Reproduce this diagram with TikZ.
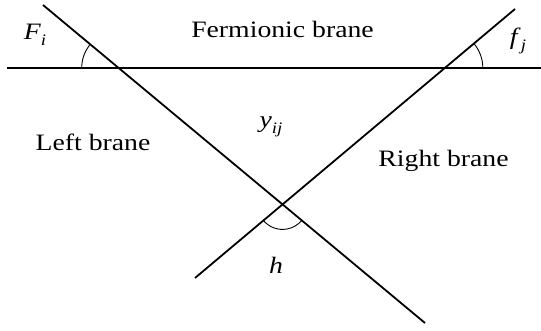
\documentclass[tikz,border=0pt]{standalone}
\usepackage{fontspec}
\setmainfont{Liberation Serif}[FakeStretch=1.18]
\usetikzlibrary{intersections}
\begin{document}
\begin{tikzpicture}[x=1pt,y=-1pt,
  lbl/.style={font=\fontsize{23.5}{28}\selectfont, inner sep=0pt, anchor=base},
  brane/.style={line width=1.8pt},
  fbrane/.style={line width=2.6pt},
  anglearc/.style={line width=0.9pt}]
\useasboundingbox (0,0) rectangle (541,331);
\coordinate (Hs) at (7,68);
\coordinate (He) at (541,68);
\coordinate (Ls) at (43,5);
\coordinate (Le) at (425,323);
\coordinate (Rs) at (515,9);
\coordinate (Re) at (195,278);
\draw[fbrane, name path=H] (Hs) -- (He);
\draw[brane, name path=L] (Ls) -- (Le);
\draw[brane, name path=R] (Rs) -- (Re);
\path[name intersections={of=H and L, by=XL}];
\path[name intersections={of=H and R, by=XR}];
\path[name intersections={of=L and R, by=XB}];
\draw[anglearc] ([shift={(180:37)}]XL) arc[start angle=180, end angle=220, radius=37];
\draw[anglearc] ([shift={(0:38)}]XR) arc[start angle=0, end angle=-40, radius=38];
\draw[anglearc] ([shift={(140:25)}]XB) arc[start angle=140, end angle=40, radius=25];
\node[lbl] (fb) at (282.5,38) {Fermionic brane};
\node[lbl] (lb) at (93,151) {Left brane};
\node[lbl] (rb) at (443.5,167) {Right brane};
\node[lbl] (Fi) at (35,40) {\textit{F}\raisebox{-0.22em}{\fontsize{16}{18}\selectfont\textit{i}}};
\node[lbl] (fj) at (518,45) {\textit{f}\raisebox{-0.22em}{\fontsize{16}{18}\selectfont\textit{j}}};
\node[lbl] (yij) at (271,128) {\textit{y}\raisebox{-0.22em}{\fontsize{16}{18}\selectfont\textit{ij}}};
\node[lbl] (h) at (276,273) {\textit{h}};
\end{tikzpicture}
\end{document}
